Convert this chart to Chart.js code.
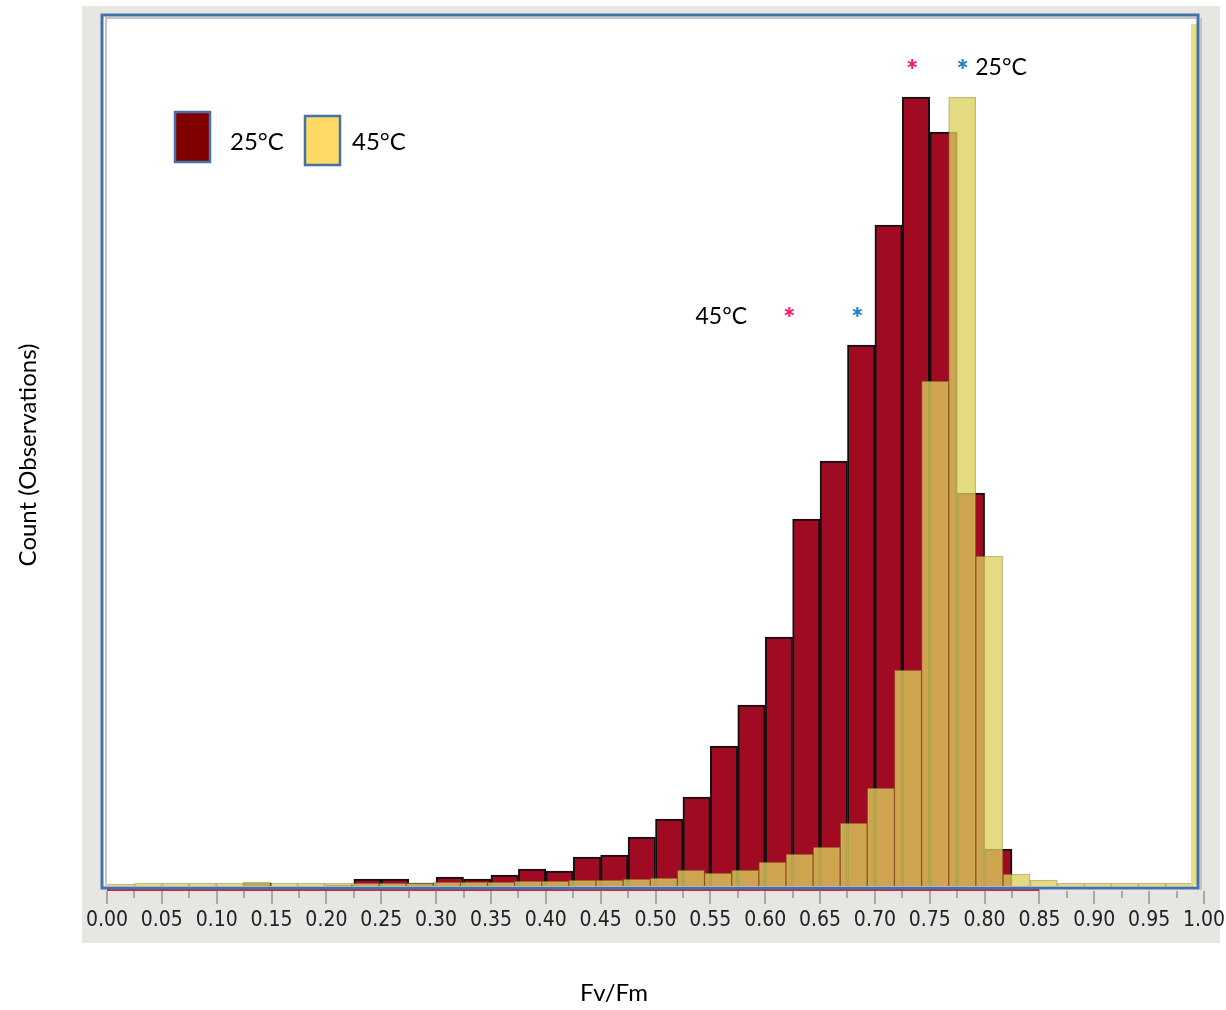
<!DOCTYPE html>
<html>
<head>
<meta charset="utf-8">
<script src="https://cdn.jsdelivr.net/npm/chart.js@4.4.1/dist/chart.umd.min.js"></script>
<style>
  html, body { margin: 0; padding: 0; background: #fff; }
</style>
</head>
<body>
<canvas id="chart" width="1226" height="1010"></canvas>
<script>
// bin centres (Fv/Fm) and counts
const bins25 = [0.0125, 0.0375, 0.0625, 0.0875, 0.1125, 0.1375, 0.1625, 0.1875, 0.2125, 0.2375,
                0.2625, 0.2875, 0.3125, 0.3375, 0.3625, 0.3875, 0.4125, 0.4375, 0.4625, 0.4875,
                0.5125, 0.5375, 0.5625, 0.5875, 0.6125, 0.6375, 0.6625, 0.6875, 0.7125, 0.7375,
                0.7625, 0.7875, 0.8125, 0.8375, 0.8625, 0.8875, 0.9125, 0.9375, 0.9625, 0.9875];
const count25 = [0, 0, 0, 0, 0, 3, 0, 0, 1, 7,
                 7, 3, 9, 7, 11, 17, 15, 29, 31, 49,
                 67, 89, 140, 181, 249, 367, 425, 541, 661, 789,
                 754, 393, 37, 0, 0, 0, 0, 0, 0, 0];

// the 45°C histogram sits slightly shifted against the 25°C one
const bins45 = [0.0130, 0.0377, 0.0625, 0.0872, 0.1119, 0.1367, 0.1614, 0.1861, 0.2108, 0.2356,
                0.2603, 0.2850, 0.3098, 0.3345, 0.3592, 0.3840, 0.4087, 0.4334, 0.4581, 0.4829,
                0.5076, 0.5323, 0.5571, 0.5818, 0.6065, 0.6313, 0.6560, 0.6807, 0.7054, 0.7302,
                0.7549, 0.7796, 0.8044, 0.8291, 0.8538, 0.8786, 0.9033, 0.9280, 0.9527, 0.9775];
const count45 = [2, 3, 3, 3, 3, 4, 3, 3, 3, 3,
                 3, 3, 4, 4, 4, 5, 5, 6, 6, 7,
                 8, 16, 13, 16, 24, 32, 39, 63, 98, 216,
                 505, 789, 330, 12, 6, 3, 3, 3, 3, 3];

const majorTicks = [0, 0.05, 0.10, 0.15, 0.20, 0.25, 0.30, 0.35, 0.40, 0.45, 0.50,
                    0.55, 0.60, 0.65, 0.70, 0.75, 0.80, 0.85, 0.90, 0.95, 1.00];
const tickLabels = ['0.00', '0.05', '0.10', '0.15', '0.20', '0.25', '0.30', '0.35', '0.40', '0.45', '0.50',
                    '0.55', '0.60', '0.65', '0.70', '0.75', '0.80', '0.85', '0.90', '0.95', '1.00'];
const minorTicks = [0.025, 0.075, 0.125, 0.175, 0.225, 0.275, 0.325, 0.375, 0.425, 0.475,
                    0.525, 0.575, 0.625, 0.675, 0.725, 0.775, 0.825, 0.875, 0.925, 0.975];

// asterisks and labels above the peaks
const starsX25 = [0.734, 0.780];
const starsY25 = 822;
const starsX45 = [0.622, 0.684];
const starsY45 = 574;
const peakLabels = ['25°C', '45°C'];
const peakLabelX = [0.815, 0.560];
const peakLabelY = [818, 569];

const COLORS = {
  red: '#a00a23',
  redEdge: '#111111',
  yellow: 'rgba(220, 208, 95, 0.78)',
  yellowEdge: 'rgba(130, 125, 45, 0.55)',
  legendRed: '#800000',
  legendYellow: '#ffd966',
  frame: '#4472a8',
  panel: '#e8e6e3',
  pink: '#ff1a75',
  blue: '#1b7fd0',
  tick: '#a8a8a8',
};

const TEXT_FONT = 'Lato, "Open Sans", sans-serif';

function drawStar(ctx, x, y, color) {
  ctx.save();
  ctx.strokeStyle = color;
  ctx.lineWidth = 2;
  ctx.beginPath();
  for (let k = 0; k < 3; k++) {
    const a = Math.PI / 2 + k * Math.PI / 3;
    ctx.moveTo(x - 5 * Math.cos(a), y - 5 * Math.sin(a));
    ctx.lineTo(x + 5 * Math.cos(a), y + 5 * Math.sin(a));
  }
  ctx.stroke();
  ctx.restore();
}

const framePlugin = {
  id: 'frame',
  beforeDraw(chart) {
    const { ctx, chartArea: a } = chart;
    ctx.save();
    ctx.fillStyle = '#fff';
    ctx.fillRect(0, 0, chart.width, chart.height);
    ctx.fillStyle = COLORS.panel;
    ctx.fillRect(82, 6, 1138, 937);
    ctx.fillStyle = '#fff';
    ctx.fillRect(a.left - 5, a.top - 1, a.right - a.left - 1, a.bottom - a.top + 3);
    ctx.restore();
  },
  afterDatasetsDraw(chart) {
    const { ctx, chartArea: a } = chart;
    const xs = chart.scales.x;
    const L = a.left - 5, R = a.right - 6, T = a.top - 1, B = a.bottom + 2;
    ctx.save();
    // pale strip along the right edge
    ctx.fillStyle = 'rgba(226, 218, 120, 0.9)';
    ctx.fillRect(R - 7, T + 9, 6, B - T - 12);
    // shadow lines
    ctx.strokeStyle = '#c4c4c4';
    ctx.lineWidth = 2;
    ctx.beginPath();
    ctx.moveTo(L + 4, B - 2); ctx.lineTo(L + 4, T + 3); ctx.lineTo(R - 2, T + 3);
    ctx.moveTo(R + 3, T + 3); ctx.lineTo(R + 3, B + 2);
    ctx.stroke();
    // red line under the frame
    ctx.strokeStyle = '#c8283c';
    ctx.beginPath();
    ctx.moveTo(xs.getPixelForValue(0), B + 2);
    ctx.lineTo(xs.getPixelForValue(0.85), B + 2);
    ctx.stroke();
    // frame
    ctx.strokeStyle = COLORS.frame;
    ctx.lineWidth = 3;
    ctx.strokeRect(L, T, R - L, B - T);
    // tick marks
    ctx.strokeStyle = COLORS.tick;
    ctx.lineWidth = 2;
    ctx.beginPath();
    majorTicks.forEach(v => {
      const px = Math.round(xs.getPixelForValue(v));
      ctx.moveTo(px, B + 3); ctx.lineTo(px, B + 16);
    });
    minorTicks.forEach(v => {
      const px = Math.round(xs.getPixelForValue(v));
      ctx.moveTo(px, B + 3); ctx.lineTo(px, B + 10);
    });
    ctx.stroke();
    ctx.restore();
  },
  afterDraw(chart) {
    const { ctx } = chart;
    const xs = chart.scales.x, ys = chart.scales.y;
    ctx.save();
    // legend
    ctx.lineWidth = 2.5;
    ctx.strokeStyle = COLORS.frame;
    ctx.fillStyle = COLORS.legendRed;
    ctx.fillRect(175, 112, 35, 50);
    ctx.strokeRect(175, 112, 35, 50);
    ctx.fillStyle = COLORS.legendYellow;
    ctx.fillRect(305, 116, 35, 49);
    ctx.strokeRect(305, 116, 35, 49);
    ctx.fillStyle = '#000';
    ctx.font = '24px ' + TEXT_FONT;
    ctx.textBaseline = 'middle';
    ctx.textAlign = 'left';
    ctx.fillText('25°C', 230, 142);
    ctx.fillText('45°C', 352, 142);

    // stars and peak labels
    starsX25.forEach((v, i) => drawStar(ctx, xs.getPixelForValue(v), ys.getPixelForValue(starsY25), i ? COLORS.blue : COLORS.pink));
    starsX45.forEach((v, i) => drawStar(ctx, xs.getPixelForValue(v), ys.getPixelForValue(starsY45), i ? COLORS.blue : COLORS.pink));
    ctx.fillStyle = '#000';
    ctx.font = '23px ' + TEXT_FONT;
    ctx.textAlign = 'center';
    peakLabels.forEach((t, i) => ctx.fillText(t, xs.getPixelForValue(peakLabelX[i]), ys.getPixelForValue(peakLabelY[i])));

    // axis titles
    ctx.font = '24px ' + TEXT_FONT;
    ctx.fillText('Fv/Fm', 614, 993);
    ctx.translate(28, 455);
    ctx.rotate(-Math.PI / 2);
    ctx.fillText('Count (Observations)', 0, 0);
    ctx.restore();
  }
};

new Chart(document.getElementById('chart'), {
  type: 'bar',
  data: {
    datasets: [
      {
        label: '25°C',
        data: bins25.map((x, i) => ({ x, y: count25[i] })),
        backgroundColor: COLORS.red,
        borderColor: COLORS.redEdge,
        borderWidth: 2,
        stack: 'all',
        order: 2,
      },
      {
        label: '45°C',
        data: bins45.map((x, i) => ({ x, y: count45[i] })),
        backgroundColor: COLORS.yellow,
        borderColor: COLORS.yellowEdge,
        borderWidth: 1,
        stack: 'all',
        order: 1,
      },
    ],
  },
  options: {
    responsive: false,
    animation: false,
    devicePixelRatio: 1,
    layout: { padding: { left: 107, right: 22, top: 16, bottom: 0 } },
    datasets: { bar: { barThickness: 'flex', categoryPercentage: 1, barPercentage: 1 } },
    plugins: { legend: { display: false }, tooltip: { enabled: false } },
    scales: {
      x: {
        type: 'linear',
        min: 0,
        max: 1,
        offset: false,
        stacked: true,
        grid: { display: false, drawTicks: false },
        border: { display: false },
        afterBuildTicks: s => { s.ticks = majorTicks.map(v => ({ value: v })); },
        afterFit: s => { s.height = 124; s.paddingLeft = 0; s.paddingRight = 0; },
        ticks: {
          autoSkip: false,
          maxRotation: 0,
          padding: 22,
          color: '#222',
          font: { family: '"DejaVu Sans Condensed", "Liberation Sans Narrow", "DejaVu Sans"', size: 21 },
          callback: (v, i) => tickLabels[i],
        },
      },
      y: { display: false, min: 0, max: 870, stacked: false },
    },
  },
  plugins: [framePlugin],
});
</script>
</body>
</html>
